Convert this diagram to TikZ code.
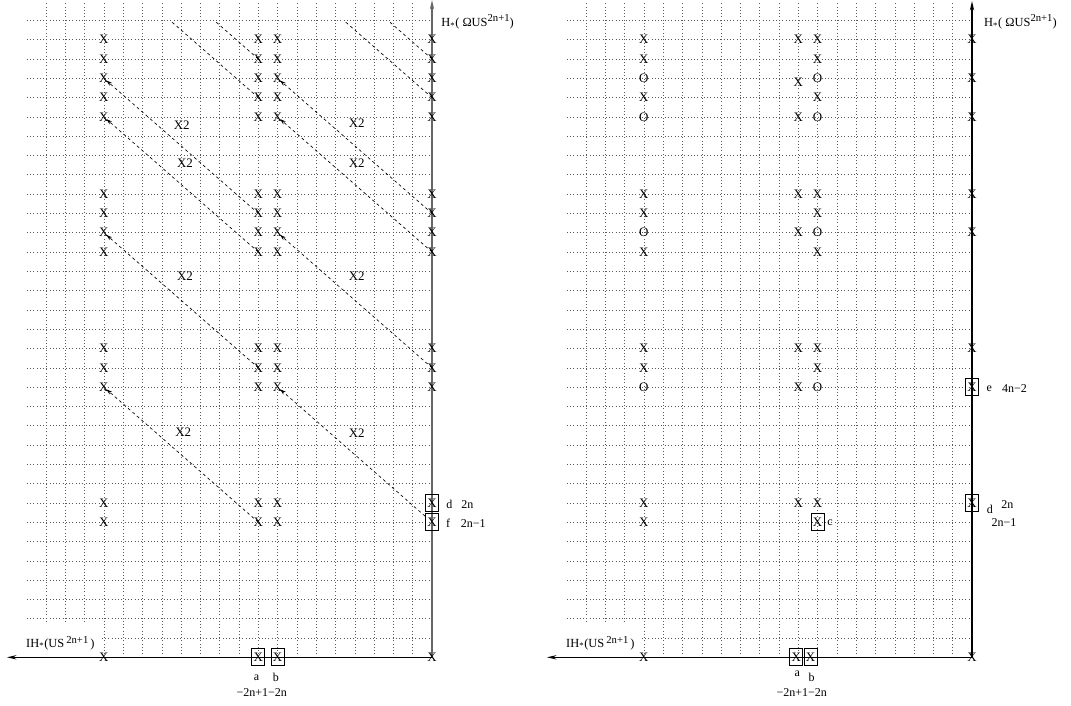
\documentclass[tikz,border=0pt]{standalone}
\usepackage{fontspec}
\setmainfont{Liberation Serif}
\usetikzlibrary{arrows.meta}
\begin{document}
\begin{tikzpicture}[x=0.75pt,y=-0.75pt,
  gridl/.style={dotted, line width=0.45pt, black!65},
  axisl/.style={line width=1pt, -{Stealth[length=7pt,width=3.2pt]}},
  mk/.style={font=\fontsize{9.7}{10}\selectfont, inner sep=1pt},
  bx/.style={mk, draw, line width=0.6pt, minimum width=9.75pt, minimum height=12.75pt, inner sep=0pt},
  lab/.style={font=\fontsize{9}{10}\selectfont, inner sep=0pt},
  dl/.style={dash pattern=on 2.2pt off 2.2pt, line width=0.5pt},
  diff/.style={dl, -{Stealth[length=4.5pt,width=2.8pt]}, shorten >=2.5pt},
  axlab/.style={font=\fontsize{9.3}{10}\selectfont, inner sep=0pt, anchor=base west},
]
\useasboundingbox (0,0) rectangle (1071,706);

% ================= LEFT PANEL =================
\begin{scope}[shift={(46,657.3)}, x=14.475pt, y=14.475pt]
  \foreach \i in {0,...,19} \draw[gridl] (\i,0) -- (\i,34);
  \foreach \j in {1,...,33} \draw[gridl] (-1,\j) -- (20,\j);
  \fill[white] (-1.1,0.08) rectangle (2.8,1.78);
  \node[axlab] (lxlab) at (-1.04,0.53) {IH\textsubscript{*}(US\,{\fontsize{8}{9}\selectfont\raisebox{3pt}{2n+1}}\,)};
  \draw[axisl] (20,0) -- (-2.02,0);
  \draw[axisl, black!60] (20,0) -- (20,34.05);
  \node[axlab] (lylab) at (20.47,32.67) {H\textsubscript{*}( ΩUS{\fontsize{8}{9}\selectfont\raisebox{4pt}{2n+1}})};

  \foreach \i in {3,11,12,20}
    \foreach \j in {32,31,30,29,28,24,23,22,21,16,15,14}
      \node[mk] (L-\i-\j) at (\i,\j) {X};
  \foreach \i in {3,11,12}
    \foreach \j in {8,7}
      \node[mk] (L-\i-\j) at (\i,\j) {X};
  \node[bx] (L-20-8) at (20,8) {X};
  \node[bx] (L-20-7) at (20,7) {X};
  \node[mk] (L-3-0) at (3,0) {X};
  \node[mk] (L-20-0) at (20,0) {X};
  \node[bx] (L-11-0) at (11,0) {X};
  \node[bx] (L-12-0) at (12,0) {X};

  \node[lab] (la) at (10.91,-1.04) {a};
  \node[lab] (lb) at (11.91,-1.04) {b};
  \node[lab] (lab0) at (11.18,-1.81) {−2n+1−2n};
  \node[lab] (ld) at (20.9,7.93) {d};
  \node[lab] (ld2) at (21.83,7.93) {2n};
  \node[lab] (lf) at (20.84,6.94) {f};
  \node[lab] (lf2) at (22.14,6.94) {2n−1};

  \node[mk] (x2a) at (7.03,27.59) {X2};
  \node[mk] (x2b) at (7.2,25.6) {X2};
  \node[mk] (x2c) at (16.1,27.67) {X2};
  \node[mk] (x2d) at (16.1,25.6) {X2};
  \node[mk] (x2e) at (7.2,19.72) {X2};
  \node[mk] (x2f) at (16.1,19.72) {X2};
  \node[mk] (x2g) at (7.11,11.66) {X2};
  \node[mk] (x2h) at (16.1,11.6) {X2};

  \draw[diff] (L-11-21.center) -- (L-3-28.center);
  \draw[diff] (L-11-23.center) -- (L-3-30.center);
  \draw[diff] (L-20-21.center) -- (L-12-28.center);
  \draw[diff] (L-20-23.center) -- (L-12-30.center);
  \draw[diff] (L-11-15.center) -- (L-3-22.center);
  \draw[diff] (L-20-15.center) -- (L-12-22.center);
  \draw[diff] (L-11-7.center) -- (L-3-14.center);
  \draw[diff] (L-20-7) -- (L-12-14.center);
  \coordinate (T1) at (6.4286,33);
  \coordinate (T2) at (8.7143,33);
  \coordinate (T3) at (15.4286,33);
  \coordinate (T4) at (17.7143,33);
  \draw[dl] (L-11-29.center) -- (T1);
  \draw[dl] (L-11-31.center) -- (T2);
  \draw[dl] (L-20-29.center) -- (T3);
  \draw[dl] (L-20-31.center) -- (T4);
\end{scope}

% ================= RIGHT PANEL =================
\begin{scope}[shift={(586,657.3)}, x=14.475pt, y=14.475pt]
  \foreach \i in {0,...,19} \draw[gridl] (\i,0) -- (\i,34);
  \foreach \j in {1,...,33} \draw[gridl] (-1,\j) -- (20,\j);
  \fill[white] (-1.1,0.08) rectangle (2.8,1.78);
  \node[axlab] (rxlab) at (-1.04,0.53) {IH\textsubscript{*}(US\,{\fontsize{8}{9}\selectfont\raisebox{3pt}{2n+1}}\,)};
  \draw[axisl] (20,0) -- (-2.02,0);
  \draw[axisl] (20,0) -- (20,34.0);
  \node[axlab] (rylab) at (20.62,32.67) {H\textsubscript{*}( ΩUS{\fontsize{8}{9}\selectfont\raisebox{4pt}{2n+1}})};

  \foreach \j/\t in {32/X,31/X,30/O,29/X,28/O,24/X,23/X,22/O,21/X,16/X,15/X,14/O,8/X,7/X,0/X}
    \node[mk] (R-3-\j) at (3,\j) {\t};
  \foreach \j/\t in {32/X,31/X,30/O,29/X,28/O,24/X,23/X,22/O,21/X,16/X,15/X,14/O,8/X}
    \node[mk] (R-12-\j) at (12,\j) {\t};
  \foreach \j in {32,28,24,22,16,14,8}
    \node[mk] (R-11-\j) at (11,\j) {X};
  \node[mk] (R-11-30) at (11,29.82) {X};
  \foreach \j in {32,30,28,24,22,16,0}
    \node[mk] (R-20-\j) at (20,\j) {X};
  \node[bx] (R-20-14) at (20,14) {X};
  \node[bx] (R-20-8) at (20,8) {X};
  \node[bx] (R-12-7) at (12,7) {X};
  \node[bx] (R-11-0) at (10.89,0) {X};
  \node[bx] (R-12-0) at (11.63,0) {X};

  \node[lab] (ra) at (10.95,-0.83) {a};
  \node[lab] (rb) at (11.69,-1.04) {b};
  \node[lab] (rab0) at (11.18,-1.81) {−2n+1−2n};
  \node[lab] (rc) at (12.64,6.97) {c};
  \node[lab] (re) at (20.9,13.94) {e};
  \node[lab] (re2) at (22.2,13.94) {4n−2};
  \node[lab] (rd) at (20.93,7.68) {d};
  \node[lab] (rd2) at (21.83,7.94) {2n};
  \node[lab] (rd3) at (21.66,6.97) {2n−1};
\end{scope}
\end{tikzpicture}
\end{document}
